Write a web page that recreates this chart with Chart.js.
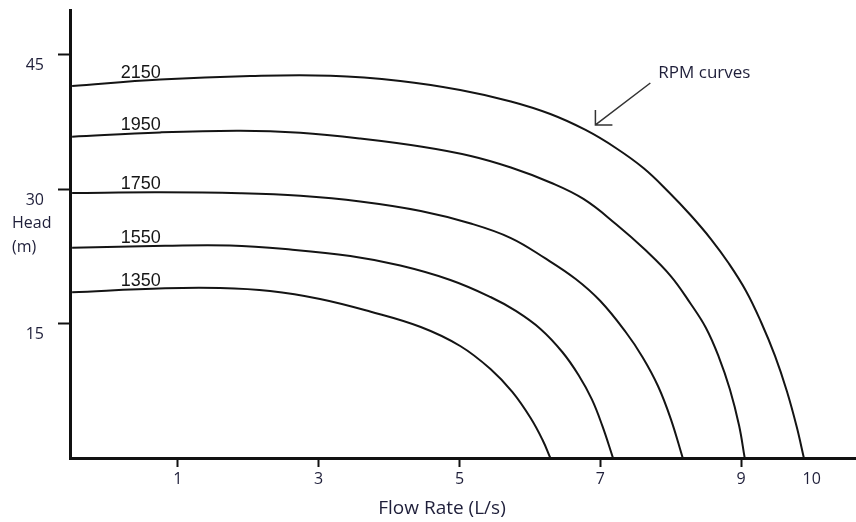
<!DOCTYPE html>
<html>
<head>
<meta charset="utf-8">
<title>Pump head vs flow rate</title>
<script src="https://cdn.jsdelivr.net/npm/chart.js@4.4.1/dist/chart.umd.min.js"></script>
<style>
  html, body { margin: 0; padding: 0; background: #fff; }
  #wrap { width: 856px; height: 522px; }
</style>
</head>
<body>
<div id="wrap"><canvas id="pump" width="856" height="522"></canvas></div>
<script>
// Pump characteristic curves: head (m) against flow rate (L/s) at several speeds.
const rpmLabels = ['2150', '1950', '1750', '1550', '1350'];

const flow2150 = [-0.50, 0.75, 2.03, 3.17, 4.16, 5.01, 5.73, 6.29, 6.79, 7.22, 7.62, 7.97, 8.28, 8.57, 8.82, 9.07, 9.28, 9.48, 9.65, 9.79, 9.89];
const head2150 = [41.52, 42.24, 42.63, 42.66, 42.08, 41.07, 39.79, 38.39, 36.61, 34.60, 32.31, 29.69, 27.12, 24.44, 21.76, 18.62, 15.21, 11.40, 7.43, 3.43, 0];

const flow1950 = [-0.50, 0.75, 1.89, 2.74, 3.59, 4.47, 5.16, 5.73, 6.29, 6.76, 7.22, 7.64, 8.00, 8.28, 8.50, 8.68, 8.84, 8.97, 9.05];
const head1950 = [35.86, 36.34, 36.52, 36.29, 35.66, 34.74, 33.71, 32.42, 30.75, 28.91, 26.12, 23.21, 20.31, 17.24, 14.51, 11.32, 7.65, 3.62, 0];

const flow1750 = [-0.50, 0.75, 1.89, 2.74, 3.59, 4.45, 5.16, 5.73, 6.22, 6.65, 7.00, 7.36, 7.60, 7.82, 8.00, 8.17];
const head1750 = [29.58, 29.65, 29.54, 29.26, 28.63, 27.57, 26.17, 24.55, 22.27, 19.98, 17.52, 14.06, 11.25, 8.01, 4.37, 0];

const flow1550 = [-0.50, 0.82, 1.74, 2.60, 3.45, 4.16, 4.87, 5.44, 5.80, 6.15, 6.46, 6.69, 6.88, 7.03, 7.18];
const head1550 = [23.47, 23.69, 23.72, 23.27, 22.54, 21.48, 19.87, 17.97, 16.41, 14.40, 11.83, 9.26, 6.54, 3.55, 0];

const flow1350 = [-0.50, 0.82, 1.60, 2.31, 3.02, 3.73, 4.45, 5.01, 5.44, 5.75, 6.01, 6.18, 6.29];
const head1350 = [18.49, 18.94, 18.97, 18.64, 17.75, 16.35, 14.62, 12.50, 9.93, 7.37, 4.46, 2.01, 0];

const xTickValues = [1, 3, 5, 7, 9, 10];
const xTicksWithoutMark = [10];
const yTickValues = [15, 30, 45];

const flows = [flow2150, flow1950, flow1750, flow1550, flow1350];
const heads = [head2150, head1950, head1750, head1550, head1350];

const TEXT = '#1f1f3a';
const SANS = '"Open Sans", Lato, sans-serif';

const datasets = rpmLabels.map((rpm, i) => ({
  label: rpm + ' rpm',
  data: flows[i].map((f, k) => ({ x: f, y: heads[i][k] })),
  borderColor: '#141414',
  borderWidth: 2,
  pointRadius: 0,
  fill: false,
  tension: 0.4
}));

// Pixel y of a dataset's line at a given pixel x (linear between drawn points)
function lineYAt(meta, px) {
  const pts = meta.data;
  for (let k = 0; k < pts.length - 1; k++) {
    const a = pts[k], b = pts[k + 1];
    if (px >= a.x && px <= b.x) {
      const t = (px - a.x) / (b.x - a.x);
      return a.y + t * (b.y - a.y);
    }
  }
  return pts[0].y;
}

// Speed labels, axis captions and the "RPM curves" call-out
const annotations = {
  id: 'annotations',
  afterDraw(chart) {
    const { ctx, scales } = chart;
    const xs = scales.x, ys = scales.y;
    ctx.save();

    // speed label above each curve
    ctx.font = '18px "Liberation Sans", Arial, sans-serif';
    ctx.fillStyle = '#151515';
    ctx.textAlign = 'left';
    ctx.textBaseline = 'alphabetic';
    const labelFlow = 0.19;
    rpmLabels.forEach((rpm, i) => {
      const px = xs.getPixelForValue(labelFlow);
      const py = lineYAt(chart.getDatasetMeta(i), px);
      ctx.fillText(rpm, px, py - 4);
    });

    // axis captions
    ctx.fillStyle = TEXT;
    ctx.textBaseline = 'middle';
    ctx.textAlign = 'left';
    ctx.font = '16px ' + SANS;
    ctx.fillText('Head', 12, 223);
    ctx.fillText('(m)', 12, 247);
    ctx.textAlign = 'center';
    ctx.font = '19px ' + SANS;
    ctx.fillText('Flow Rate (L/s)', 442, 509);

    // call-out text and arrow
    const tip = { x: xs.getPixelForValue(6.93), y: ys.getPixelForValue(37.17) };
    const tail = { x: xs.getPixelForValue(7.71), y: ys.getPixelForValue(41.85) };
    ctx.font = '17px ' + SANS;
    ctx.textAlign = 'left';
    ctx.fillText('RPM curves', tail.x + 8, tail.y - 10);

    ctx.strokeStyle = '#333';
    ctx.lineWidth = 1.5;
    ctx.beginPath();
    ctx.moveTo(tail.x, tail.y);
    ctx.lineTo(tip.x, tip.y);
    ctx.moveTo(tip.x, tip.y - 15);
    ctx.lineTo(tip.x, tip.y);
    ctx.lineTo(tip.x + 17, tip.y);
    ctx.stroke();

    ctx.restore();
  }
};

new Chart(document.getElementById('pump'), {
  type: 'line',
  data: { datasets },
  options: {
    responsive: false,
    animation: false,
    devicePixelRatio: 1,
    layout: { padding: { top: 10, right: 0, left: 0, bottom: 0 } },
    plugins: {
      legend: { display: false },
      tooltip: { enabled: false },
      title: { display: false }
    },
    scales: {
      x: {
        type: 'linear',
        min: -0.53,
        max: 10.63,
        afterBuildTicks: (scale) => { scale.ticks = xTickValues.map(v => ({ value: v })); },
        afterFit: (scale) => { scale.height = 64; scale.paddingLeft = 0; scale.paddingRight = 0; },
        border: { display: true, color: '#111', width: 3 },
        grid: {
          drawOnChartArea: false,
          drawTicks: true,
          tickLength: 9,
          tickWidth: 2,
          tickColor: (c) => (c.tick && xTicksWithoutMark.includes(c.tick.value)) ? 'rgba(0,0,0,0)' : '#111'
        },
        ticks: {
          autoSkip: false,
          maxRotation: 0,
          padding: 3,
          color: TEXT,
          font: { family: SANS, size: 16 },
          callback: (v) => String(v)
        }
      },
      y: {
        type: 'linear',
        min: 0,
        max: 50,
        afterBuildTicks: (scale) => { scale.ticks = yTickValues.map(v => ({ value: v })); },
        afterFit: (scale) => { scale.width = 70; scale.paddingTop = 0; scale.paddingBottom = 0; },
        border: { display: true, color: '#111', width: 3 },
        grid: {
          drawOnChartArea: false,
          drawTicks: true,
          tickLength: 12,
          tickWidth: 2,
          tickColor: '#111'
        },
        ticks: {
          autoSkip: false,
          padding: 14,
          labelOffset: 11,
          color: TEXT,
          font: { family: SANS, size: 16 },
          callback: (v) => String(v)
        }
      }
    }
  },
  plugins: [annotations]
});
</script>
</body>
</html>
